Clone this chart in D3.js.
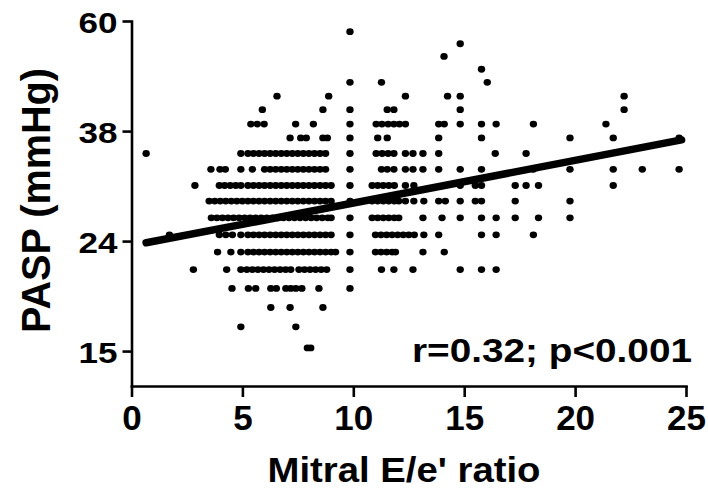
<!DOCTYPE html>
<html>
<head>
<meta charset="utf-8">
<script src="https://cdn.jsdelivr.net/npm/d3@7"></script>
<style>
  html, body { margin: 0; padding: 0; background: #fff; }
  svg { display: block; }
  text { font-family: "Liberation Sans", Arial, Helvetica, sans-serif; font-weight: bold; fill: #000; }
</style>
</head>
<body>
<svg id="chart" width="708" height="489"></svg>
<script>
// ---------------- data ----------------
const xTicks = [0, 5, 10, 15, 20, 25];
const yTickValues = [15, 23.77, 37.67, 59.72];
const yTickLabels = ["15", "24", "38", "60"];

// PASP levels (mmHg) at which the points sit
const paspLevels = [57.1, 54.3, 51.5, 48.8, 46.2, 43.6, 41.2, 38.8, 36.6, 34.3, 32.1, 30.0, 28.1, 26.2, 24.4, 22.7, 21.1, 19.5, 18.0, 16.6, 15.2];

// Mitral E/e' ratio values of the patients at each PASP level
const ratioAtLevel = [
  [9.85],
  [14.82],
  [14.09],
  [15.78],
  [9.85, 11.27, 16.04],
  [6.56, 8.89, 12.35, 14.25, 14.82, 22.21],
  [5.9, 8.63, 9.85, 11.53, 11.83, 14.82, 22.21],
  [5.38, 5.67, 5.98, 7.4, 8.2, 9.85, 11.03, 11.29, 11.57, 11.83, 12.08, 12.35, 13.85, 14.1, 14.82, 15.78, 16.44, 18.12, 21.39],
  [7.15, 7.63, 7.88, 8.63, 8.83, 9.85, 11.1, 11.53, 13.85, 15.78, 19.77, 21.72, 24.69],
  [0.66, 4.93, 5.25, 5.5, 5.75, 6, 6.25, 6.5, 6.75, 7, 7.25, 7.5, 7.75, 8, 8.25, 8.5, 8.75,
   9.85, 11.03, 11.3, 11.57, 11.83, 12.35, 12.69, 13.14, 13.85, 16.4, 17.79],
  [3.58, 3.99, 4.23, 4.93, 5.45, 6, 6.25, 6.5, 6.75, 7, 7.25, 7.5, 7.75, 8, 8.25, 8.5, 8.75,
   9.85, 11.27, 11.53, 11.83, 12.35, 12.69, 13.14, 13.85, 14.82, 15.78, 18.12, 19.77, 21.72, 23.03, 24.69],
  [2.86, 3.96, 4.2, 4.45, 4.7, 4.93, 5.25, 5.5, 5.75, 6, 6.25, 6.5, 6.75, 7, 7.25, 7.5, 7.75, 8, 8.25, 8.5, 8.75, 9,
   9.85, 10.85, 11.1, 11.35, 11.6, 11.85, 12.35, 12.73, 14.82, 15.5, 15.78, 17.3, 17.79, 18.35, 21.72],
  [3.5, 3.75, 4, 4.25, 4.5, 4.75, 5, 5.25, 5.5, 5.75, 6, 6.25, 6.5, 6.75, 7, 7.25, 7.5, 7.75, 8, 8.25, 8.5, 8.75, 9,
   9.85, 10.85, 11.1, 11.35, 11.6, 11.85, 12.05, 12.35, 12.73, 13.18, 13.85, 14.15, 14.82, 15.5, 15.78, 17.3, 19.77],
  [3.6, 3.85, 4.1, 4.35, 4.6, 4.85, 5.1, 5.35, 5.6, 5.85, 6.1, 6.35, 6.6, 6.85, 7.1, 7.35, 7.6, 7.85, 8.1, 8.35, 8.6, 8.85, 9.0,
   9.85, 10.85, 11.1, 11.35, 11.6, 11.85, 12.05, 13.14, 14.0, 14.82, 15.78, 16.44, 17.3, 18.35, 19.77],
  [1.71, 3.96, 4.25, 4.55, 4.93, 5.25, 5.5, 5.75, 6, 6.25, 6.5, 6.75, 7, 7.25, 7.5, 7.75, 8, 8.25, 8.5, 8.75, 9,
   9.85, 11.0, 11.25, 11.5, 11.75, 12.0, 12.25, 12.5, 12.75, 13.18, 13.85, 15.78, 16.44, 18.12],
  [3.88, 4.48, 4.93, 5.25, 5.5, 5.75, 6, 6.25, 6.5, 6.75, 7, 7.25, 7.5, 7.75, 8, 8.25, 8.5, 8.75, 9, 9.2,
   9.85, 11.0, 11.25, 11.5, 11.75, 11.9, 13.14, 14.1],
  [2.79, 4.29, 4.93, 5.2, 5.45, 5.7, 5.95, 6.2, 6.45, 6.7, 6.95, 7.18, 7.55, 7.8, 8.05, 8.3, 8.55, 8.8,
   9.85, 11.27, 11.83, 12.69, 14.82, 15.78, 16.44],
  [4.53, 5.27, 5.6, 6.28, 6.53, 6.96, 7.18, 7.41, 7.68, 8.45, 9.85],
  [6.28, 7.15, 8.63],
  [4.93, 7.41],
  [7.93, 8.08]
];

// regression line end points
const fitRatio = [0.66, 24.8];
const fitPasp = [23.6, 36.3];

const statText = "r=0.32; p<0.001";
const xTitle = "Mitral E/e' ratio";
const yTitle = "PASP (mmHg)";

// ---------------- chart ----------------
const points = [];
paspLevels.forEach((p, i) => ratioAtLevel[i].forEach(r => points.push({ r, p })));

const svg = d3.select("#chart");
const x = d3.scaleLinear().domain([0, 25]).range([131.5, 686]);
const y = d3.scaleLog().domain([12.96, 59.72]).range([386, 21]);

// axes
const yAxis = svg.append("g")
  .attr("transform", `translate(${x(0)},0)`)
  .call(d3.axisLeft(y).tickValues(yTickValues).tickFormat((d, i) => yTickLabels[i])
        .tickSize(9).tickSizeOuter(0).tickPadding(5));
yAxis.selectAll("path, line").attr("stroke", "#000").attr("stroke-width", 2.6);
yAxis.selectAll("text").attr("font-size", 29).attr("font-family", null)
  .attr("dy", "0.38em")
  .attr("textLength", 39).attr("lengthAdjust", "spacingAndGlyphs");

const xAxis = svg.append("g")
  .attr("transform", `translate(0,${y(12.96)})`)
  .call(d3.axisBottom(x).tickValues(xTicks).tickFormat(d3.format("d"))
        .tickSize(11).tickSizeOuter(0).tickPadding(8));
xAxis.selectAll("path, line").attr("stroke", "#000").attr("stroke-width", 2.6);
xAxis.selectAll("text").attr("font-size", 35).attr("font-family", null);
svg.selectAll(".domain").attr("stroke-linecap", "square");

// points
svg.append("g").selectAll("ellipse").data(points).join("ellipse")
  .attr("cx", d => x(d.r))
  .attr("cy", d => y(d.p))
  .attr("rx", 3.7).attr("ry", 3.4)
  .attr("fill", "#000");

// regression line
const fit = fitRatio.map((r, i) => [r, fitPasp[i]]);
svg.append("path")
  .datum(fit)
  .attr("d", d3.line().x(d => x(d[0])).y(d => y(d[1])))
  .attr("fill", "none").attr("stroke", "#000")
  .attr("stroke-width", 7.5).attr("stroke-linecap", "round");

// titles
svg.append("text")
  .attr("x", 404).attr("y", 481.5)
  .attr("text-anchor", "middle")
  .attr("font-size", 35)
  .attr("textLength", 273).attr("lengthAdjust", "spacingAndGlyphs")
  .text(xTitle);

svg.append("text")
  .attr("transform", "translate(49.5,200.5) rotate(-90)")
  .attr("text-anchor", "middle")
  .attr("font-size", 40)
  .attr("textLength", 265).attr("lengthAdjust", "spacingAndGlyphs")
  .text(yTitle);

svg.append("text")
  .attr("x", 412).attr("y", 362)
  .attr("font-size", 33)
  .attr("textLength", 280).attr("lengthAdjust", "spacingAndGlyphs")
  .text(statText);
</script>
</body>
</html>
